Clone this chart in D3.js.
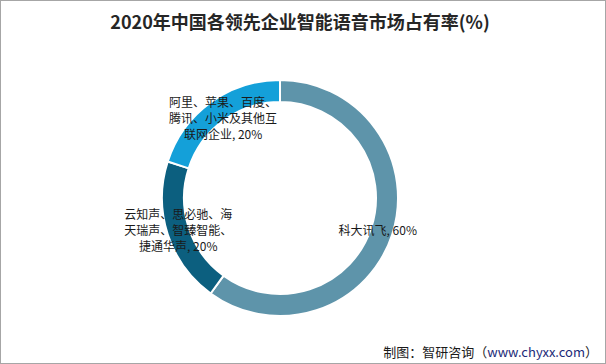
<!DOCTYPE html>
<html>
<head>
<meta charset="utf-8">
<script src="https://cdn.jsdelivr.net/npm/d3@7"></script>
<style>
  body { margin: 0; background: #fff; }
  text { font-family: "Noto Sans CJK SC", "Microsoft YaHei", sans-serif; }
</style>
</head>
<body>
<div id="chart"></div>
<script>
var names = ['科大讯飞', '云知声、思必驰、海天瑞声、智臻智能、捷通华声', '阿里、苹果、百度、腾讯、小米及其他互联网企业'],
    shares = [60, 20, 20],
    labelLines = [['科大讯飞, 60%'],
                  ['云知声、思必驰、海', '天瑞声、智臻智能、', '捷通华声, 20%'],
                  ['阿里、苹果、百度、', '腾讯、小米及其他互', '联网企业, 20%']],
    colors = ['#5e94aa', '#0c5f7f', '#14a0d9'];

var width = 606,
    height = 364,
    cx = 280,
    cy = 198,
    outerR = 118,
    innerR = 96;

var svg = d3.select("#chart").append("svg")
    .attr("width", width)
    .attr("height", height);

svg.append("rect")
    .attr("x", 0.5).attr("y", 0.5)
    .attr("width", width - 1).attr("height", height - 1)
    .attr("fill", "#fff")
    .attr("stroke", "#a6a6a6");

svg.append("text")
    .attr("x", 300)
    .attr("y", 29)
    .attr("text-anchor", "middle")
    .style("font-size", "18px")
    .style("font-weight", "bold")
    .attr("fill", "#262626")
    .text("2020年中国各领先企业智能语音市场占有率(%)");

var data = names.map(function(n, i){ return {name: n, value: shares[i], lines: labelLines[i], color: colors[i]}; });

var pie = d3.pie()
    .sort(null)
    .value(function(d){ return d.value; });

var arc = d3.arc()
    .innerRadius(innerR)
    .outerRadius(outerR);

var labelArc = d3.arc()
    .innerRadius(107)
    .outerRadius(107);

var g = svg.append("g")
    .attr("transform", "translate(" + cx + "," + cy + ")");

var arcs = pie(data);

g.selectAll(".slice")
    .data(arcs).enter()
    .append("path")
      .attr("class", "slice")
      .attr("d", arc)
      .attr("fill", function(d){ return d.data.color; })
      .attr("stroke", "#fff")
      .attr("stroke-width", 2);

// small nudges so labels sit where the original puts them
var nudge = [[-4, 0], [0, 0], [6, 8]];
var lineH = 16;
var labels = g.selectAll(".lbl")
    .data(arcs).enter()
    .append("text")
      .attr("class", "lbl")
      .attr("text-anchor", "middle")
      .style("font-size", "12px")
      .attr("fill", "#1a1a1a")
      .attr("transform", function(d){
        var c = labelArc.centroid(d);
        return "translate(" + (c[0] + nudge[d.index][0]) + "," + (c[1] + nudge[d.index][1]) + ")";
      });

labels.each(function(d){
  var t = d3.select(this),
      n = d.data.lines.length;
  d.data.lines.forEach(function(line, i){
    t.append("tspan")
      .attr("x", 0)
      .attr("y", (i - (n - 1) / 2) * lineH + 4)
      .text(line);
  });
});

var foot = svg.append("text")
    .attr("x", 598)
    .attr("y", 357)
    .attr("text-anchor", "end")
    .style("font-size", "13px")
    .attr("fill", "#1a1a1a");
foot.append("tspan").text("制图：智研咨询（");
foot.append("tspan").attr("fill", "#1c2a78").text("www.chyxx.com");
foot.append("tspan").text("）");
</script>
</body>
</html>
